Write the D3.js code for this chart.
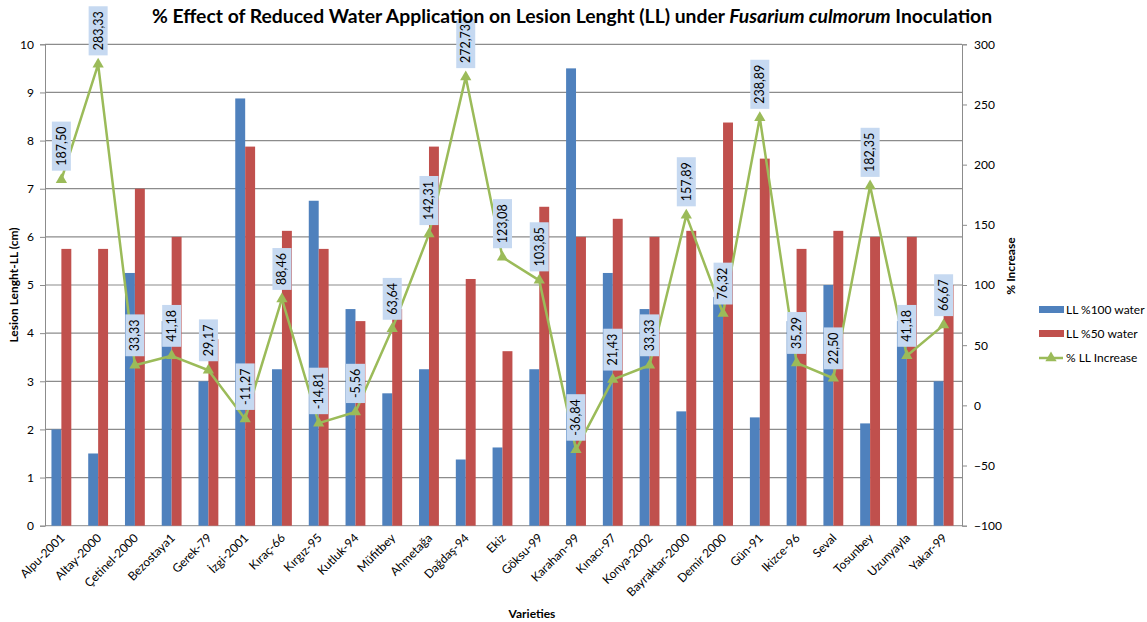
<!DOCTYPE html>
<html>
<head>
<meta charset="utf-8">
<script src="https://cdn.jsdelivr.net/npm/d3@7"></script>
<style>
  body { margin: 0; background: #fff; }
  svg { font-family: Lato, "Open Sans", sans-serif; }
</style>
</head>
<body>
<div id="chart"></div>
<script>
// Varieties on the x axis
var varieties = ["Alpu-2001", "Altay-2000", "Çetinel-2000", "Bezostaya1", "Gerek-79", "İzgi-2001",
  "Kıraç-66", "Kırgız-95", "Kutluk-94", "Müfitbey", "Ahmetağa", "Dağdaş-94", "Ekiz", "Göksu-99",
  "Karahan-99", "Kınacı-97", "Konya-2002", "Bayraktar-2000", "Demir 2000", "Gün-91", "Ikizce-96",
  "Seval", "Tosunbey", "Uzunyayla", "Yakar-99"];

// Lesion length (cm), full water
var ll100 = [2.0, 1.5, 5.25, 4.25, 3.0, 8.875, 3.25, 6.75, 4.5, 2.75, 3.25, 1.375, 1.625, 3.25,
  9.5, 5.25, 4.5, 2.375, 4.75, 2.25, 4.25, 5.0, 2.125, 4.25, 3.0];

// Lesion length (cm), half water
var ll50 = [5.75, 5.75, 7.0, 6.0, 3.875, 7.875, 6.125, 5.75, 4.25, 4.5, 7.875, 5.125, 3.625, 6.625,
  6.0, 6.375, 6.0, 6.125, 8.375, 7.625, 5.75, 6.125, 6.0, 6.0, 5.0];

// % LL increase (right axis)
var increase = [187.50, 283.33, 33.33, 41.18, 29.17, -11.27, 88.46, -14.81, -5.56, 63.64, 142.31,
  272.73, 123.08, 103.85, -36.84, 21.43, 33.33, 157.89, 76.32, 238.89, 35.29, 22.50, 182.35, 41.18, 66.67];

var leftTicks = [0, 1, 2, 3, 4, 5, 6, 7, 8, 9, 10];
var rightTicks = [-100, -50, 0, 50, 100, 150, 200, 250, 300];
var seriesNames = ["LL %100 water", "LL %50 water", "% LL Increase"];

var W = 1147, H = 622;
var plot = { left: 43, right: 962, top: 44.3, bottom: 525.7 };
var blue = "#4f81bd", red = "#c0504d", green = "#9bbb59", grid = "#8c8c8c";

var svg = d3.select("#chart").append("svg")
    .attr("width", W)
    .attr("height", H);

// scales
var x = d3.scaleBand()
    .domain(varieties)
    .range([plot.left, plot.right])
    .paddingInner(0.46)
    .paddingOuter(0.23);

var xs = d3.scaleBand()
    .domain(["a", "b"])
    .range([0, x.bandwidth()]);

var y = d3.scaleLinear().domain([0, 10]).range([plot.bottom, plot.top]);
var y2 = d3.scaleLinear().domain([-100, 300]).range([plot.bottom, plot.top]);

// gridlines
svg.append("g")
    .selectAll("line")
    .data(leftTicks.filter(function(d) { return d > 0; }))
    .join("line")
    .attr("x1", 45).attr("x2", plot.right)
    .attr("y1", function(d) { return y(d); })
    .attr("y2", function(d) { return y(d); })
    .attr("stroke", grid).attr("stroke-width", 1.2);

// left axis
var yAxis = svg.append("g")
    .attr("transform", "translate(45,0)")
    .call(d3.axisLeft(y).tickValues(leftTicks).tickSize(5).tickPadding(6));
yAxis.select(".domain").attr("stroke", grid);
yAxis.selectAll(".tick line").attr("stroke", grid);
yAxis.selectAll("text").style("font-size", "12px").attr("fill", "#000")
    .style("font-family", "Lato, sans-serif");

// right axis
var y2Axis = svg.append("g")
    .attr("transform", "translate(" + plot.right + ",0)")
    .call(d3.axisRight(y2).tickValues(rightTicks).tickSize(5).tickPadding(7));
y2Axis.select(".domain").attr("stroke", grid);
y2Axis.selectAll(".tick line").attr("stroke", grid);
y2Axis.selectAll("text").style("font-size", "12px").attr("fill", "#000")
    .style("font-family", "Lato, sans-serif");

// bottom axis line
svg.append("line")
    .attr("x1", 45).attr("x2", plot.right)
    .attr("y1", plot.bottom).attr("y2", plot.bottom)
    .attr("stroke", grid);

// bars
var groups = svg.append("g")
    .selectAll("g")
    .data(varieties)
    .join("g")
    .attr("transform", function(d) { return "translate(" + x(d) + ",0)"; });

groups.append("rect")
    .attr("x", xs("a"))
    .attr("width", xs.bandwidth())
    .attr("y", function(d, i) { return y(ll100[i]); })
    .attr("height", function(d, i) { return y(0) - y(ll100[i]); })
    .attr("fill", blue);

groups.append("rect")
    .attr("x", xs("b"))
    .attr("width", xs.bandwidth())
    .attr("y", function(d, i) { return y(ll50[i]); })
    .attr("height", function(d, i) { return y(0) - y(ll50[i]); })
    .attr("fill", red);

// x labels
svg.append("g")
    .selectAll("text")
    .data(varieties)
    .join("text")
    .attr("transform", function(d) {
        return "translate(" + (x(d) + x.bandwidth() / 2 + 4) + "," + (plot.bottom + 13) + ") rotate(-45)";
    })
    .attr("text-anchor", "end")
    .style("font-size", "12px")
    .text(function(d) { return d; });

// % increase line
var cx = function(i) { return x(varieties[i]) + x.bandwidth() / 2; };
var line = d3.line()
    .x(function(d, i) { return cx(i); })
    .y(function(d) { return y2(d); });

svg.append("path")
    .datum(increase)
    .attr("d", line)
    .attr("fill", "none")
    .attr("stroke", green)
    .attr("stroke-width", 2.5)
    .attr("stroke-linejoin", "round");

var tri = d3.symbol().type(d3.symbolTriangle).size(55);
svg.append("g")
    .selectAll("path")
    .data(increase)
    .join("path")
    .attr("d", tri)
    .attr("transform", function(d, i) { return "translate(" + cx(i) + "," + y2(d) + ")"; })
    .attr("fill", green);

// data labels (rotated, on light blue boxes)
var fmt = function(v) { return v.toFixed(2).replace(".", ","); };
var labels = svg.append("g")
    .selectAll("g")
    .data(increase)
    .join("g")
    .attr("transform", function(d, i) { return "translate(" + cx(i) + "," + (y2(d) - 9) + ")"; });

labels.each(function(d) {
    var g = d3.select(this);
    var box = g.append("rect").attr("fill", "#c6d9f1");
    var t = g.append("text")
        .attr("transform", "rotate(-90)")
        .attr("x", 5)
        .attr("y", 0)
        .attr("dy", "0.35em")
        .style("font-size", "12.5px")
        .text(fmt(d));
    var len = t.node().getComputedTextLength();
    box.attr("x", -9.5).attr("width", 19)
        .attr("y", -(len + 10)).attr("height", len + 10);
});

// title
var title = svg.append("text")
    .attr("x", 572)
    .attr("y", 23)
    .attr("text-anchor", "middle")
    .style("font-size", "18px")
    .style("font-weight", "bold");
title.append("tspan").text("% Effect of Reduced Water Application on Lesion Lenght (LL) under ");
title.append("tspan").style("font-style", "italic").text("Fusarium culmorum");
title.append("tspan").text(" Inoculation");
var tl = title.node().getComputedTextLength();
title.style("font-size", (18 * 841 / tl) + "px");

// axis titles
svg.append("text")
    .attr("transform", "translate(18,285) rotate(-90)")
    .attr("text-anchor", "middle")
    .style("font-size", "12px")
    .style("font-weight", "bold")
    .text("Lesion Lenght-LL (cm)");

svg.append("text")
    .attr("transform", "translate(1015,266) rotate(-90)")
    .attr("text-anchor", "middle")
    .style("font-size", "12px")
    .style("font-weight", "bold")
    .text("% Increase");

svg.append("text")
    .attr("x", 532)
    .attr("y", 618)
    .attr("text-anchor", "middle")
    .style("font-size", "12px")
    .style("font-weight", "bold")
    .text("Varieties");

// legend
var legend = svg.append("g").attr("transform", "translate(1039,0)");
var legY = [310, 334, 358];
legend.append("rect").attr("x", 0).attr("y", legY[0] - 4).attr("width", 25).attr("height", 7).attr("fill", blue);
legend.append("rect").attr("x", 0).attr("y", legY[1] - 4).attr("width", 25).attr("height", 7).attr("fill", red);
legend.append("line").attr("x1", 0).attr("x2", 24).attr("y1", legY[2]).attr("y2", legY[2])
    .attr("stroke", green).attr("stroke-width", 2.5);
legend.append("path").attr("d", tri).attr("transform", "translate(12," + legY[2] + ")").attr("fill", green);
legend.selectAll("text.leg")
    .data(seriesNames)
    .join("text")
    .attr("class", "leg")
    .attr("x", 27)
    .attr("y", function(d, i) { return legY[i]; })
    .attr("dy", "0.35em")
    .style("font-size", "12px")
    .text(function(d) { return d; });
</script>
</body>
</html>
